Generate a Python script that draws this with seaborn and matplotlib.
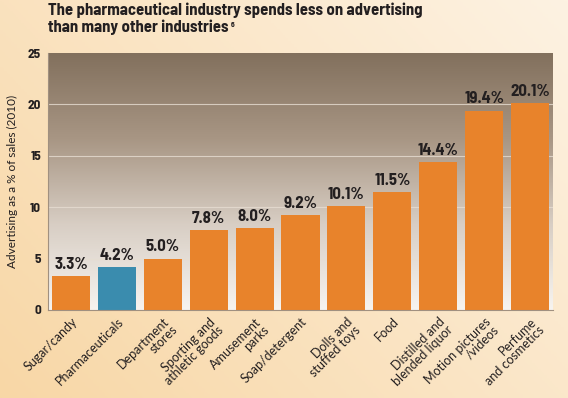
import numpy as np
import pandas as pd
import matplotlib
matplotlib.use("Agg")
import matplotlib.pyplot as plt
import seaborn as sns
from matplotlib.colors import LinearSegmentedColormap

categories = ["Sugar/candy", "Pharmaceuticals", "Department\nstores", "Sporting and\nathletic goods",
              "Amusement\nparks", "Soap/detergent", "Dolls and\nstuffed toys", "Food",
              "Distilled and\nblended liquor", "Motion pictures\n/videos", "Perfume\nand cosmetics"]
values = [3.3, 4.2, 5.0, 7.8, 8.0, 9.2, 10.1, 11.5, 14.4, 19.4, 20.1]
value_labels = ["3.3%", "4.2%", "5.0%", "7.8%", "8.0%", "9.2%", "10.1%", "11.5%", "14.4%", "19.4%", "20.1%"]
highlight = "Pharmaceuticals"
yticks = [0, 5, 10, 15, 20, 25]

sns.set_theme(style="white")
plt.rcParams['font.family'] = ['Lato', 'DejaVu Sans']

COND = ['Barlow Semi Condensed', 'Saira SemiCondensed', 'DejaVu Sans']
REG = ['Lato', 'DejaVu Sans']

ORANGE = "#e8832b"
BLUE = "#3a8cae"
palette = [BLUE if c == highlight else ORANGE for c in categories]

df = pd.DataFrame({"cat": categories, "val": values})

fig = plt.figure(figsize=(5.68, 3.98), dpi=100)
bg = fig.add_axes([0, 0, 1, 1], zorder=-10)
gx = np.linspace(0, 1, 200)
gy = np.linspace(0, 1, 200)
X, Y = np.meshgrid(gx, gy)
Z = 0.6 * X + 0.4 * Y
cmap_bg = LinearSegmentedColormap.from_list("bg", ["#f8d7a6", "#fdf2e2"])
bg.imshow(Z, cmap=cmap_bg, origin="lower", extent=[0, 1, 0, 1], aspect="auto")
bg.axis("off")

ax = fig.add_axes([48/568, 1 - 310/398, 505/568, 257/398])
ax.set_facecolor("none")
cmap_ax = LinearSegmentedColormap.from_list("ax", ["#f7f4f0", "#d8cec4", "#a89684", "#82705d"])
grad = np.linspace(0, 1, 256).reshape(-1, 1)
ax.imshow(grad, cmap=cmap_ax, origin="lower", extent=[-0.5, len(categories) - 0.5, 0, 25],
          aspect="auto", zorder=0)

for t in [5, 10, 15, 20]:
    ax.axhline(t, color="#e6ddd2", lw=0.8, alpha=0.8, zorder=1)

sns.barplot(data=df, x="cat", y="val", hue="cat", palette=palette, legend=False,
            width=0.83, ax=ax, zorder=2, saturation=1, edgecolor="none", linewidth=0)

for i, (v, lab) in enumerate(zip(values, value_labels)):
    ax.text(i, v + 0.4, lab, ha="center", va="bottom", fontsize=12, fontweight="bold",
            color="#231f20", zorder=3, family=COND)

ax.set_xlim(-0.5, len(categories) - 0.5)
ax.set_ylim(0, 25)
ax.set_yticks(yticks)
ax.set_yticklabels([str(t) for t in yticks], fontsize=9.5, fontweight="bold", color="#231f20",
                   family=COND)
ax.set_xticks(range(len(categories)))
ax.set_xticklabels(categories, rotation=45, ha="right", rotation_mode="anchor",
                   fontsize=9, color="#231f20", linespacing=0.95, family=REG)
ax.tick_params(axis="x", length=0, pad=4)
ax.tick_params(axis="y", length=0, pad=5)
ax.set_xlabel("")
ax.set_ylabel("Advertising as a % of sales (2010)", fontsize=8.5, color="#231f20", labelpad=7,
              family=REG)
for s in ["top", "right"]:
    ax.spines[s].set_visible(False)
for s in ["left", "bottom"]:
    ax.spines[s].set_color("#a09080")
    ax.spines[s].set_linewidth(0.8)

fig.text(48/568, 1 - 3/398, "The pharmaceutical industry spends less on advertising\nthan many other industries",
         ha="left", va="top", fontsize=12, fontweight="bold", color="#231f20", linespacing=1.1,
         family=COND)
# tiny footnote marker after the title
t2 = fig.text(0, 0, "than many other industries", fontsize=12, fontweight="bold", family=COND)
fig.canvas.draw()
w = t2.get_window_extent().width
t2.remove()
fig.text((48 + w + 2.5) / 568, 1 - 22/398, "6", ha="left", va="top", fontsize=5.5,
         fontweight="bold", color="#231f20", family=COND)

fig.savefig("out.png", dpi=100)
